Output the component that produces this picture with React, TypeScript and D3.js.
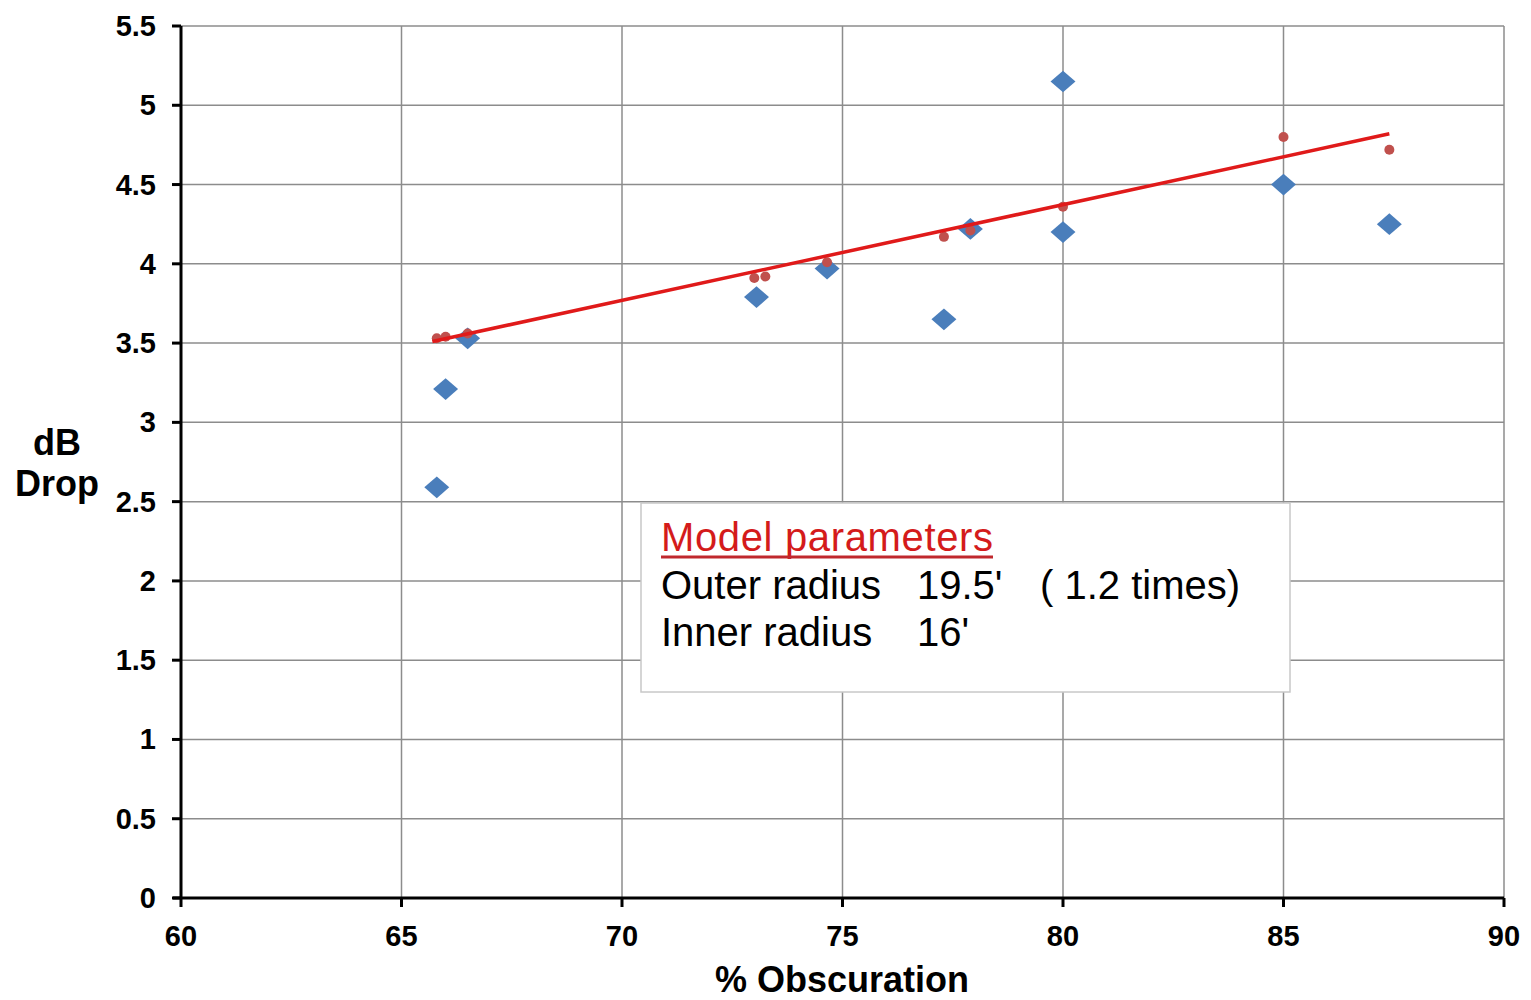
import React from "react";
import * as d3 from "d3";

const measuredX = [65.8, 66.0, 66.5, 73.05, 74.65, 77.3, 77.9, 80.0, 80.0, 85.0, 87.4];
const measuredY = [2.59, 3.21, 3.53, 3.79, 3.97, 3.65, 4.22, 5.15, 4.2, 4.5, 4.25];
const modelX = [65.8, 66.0, 66.5, 73.0, 73.25, 74.65, 77.3, 77.9, 80.0, 85.0, 87.4];
const modelY = [3.53, 3.54, 3.56, 3.91, 3.92, 4.01, 4.17, 4.21, 4.36, 4.8, 4.72];
const trendX = [65.7, 87.4];
const trendY = [3.51, 4.82];
const xTicks = [60, 65, 70, 75, 80, 85, 90];
const yTicks = [0, 0.5, 1, 1.5, 2, 2.5, 3, 3.5, 4, 4.5, 5, 5.5];
const boxTitle = "Model parameters";
const boxLabels = ["Outer radius", "Inner radius"];
const boxValues = ["19.5'", "16'"];
const boxNotes = ["( 1.2 times)", ""];

export default function App() {
  const W = 1531, H = 1000;
  const x = d3.scaleLinear().domain([60, 90]).range([181, 1504]);
  const y = d3.scaleLinear().domain([0, 5.5]).range([898, 26]);
  const line = d3.line<number>().x((_, i) => x(trendX[i])).y((_, i) => y(trendY[i]));
  const font = "Arial, 'Liberation Sans', sans-serif";
  const diamond = d3.symbol().type(d3.symbolDiamond2).size(300)();
  return (
    <svg width={W} height={H} style={{ position: "absolute", left: 0, top: 0, background: "#fff" }} fontFamily={font}>
      <rect x={0} y={0} width={W} height={H} fill="#fff" />
      {xTicks.filter(t => t > 60).map(t => (
        <line key={"gx" + t} x1={x(t)} x2={x(t)} y1={y(5.5)} y2={y(0)} stroke="#8c8c8c" strokeWidth={1.5} />
      ))}
      {yTicks.filter(t => t > 0).map(t => (
        <line key={"gy" + t} x1={x(60)} x2={x(90)} y1={y(t)} y2={y(t)} stroke="#8c8c8c" strokeWidth={1.5} />
      ))}
      <line x1={x(60)} x2={x(60)} y1={y(5.5)} y2={y(0)} stroke="#000" strokeWidth={3} />
      <line x1={x(60) - 8} x2={x(90)} y1={y(0)} y2={y(0)} stroke="#000" strokeWidth={3} />
      {yTicks.map(t => (
        <g key={"ty" + t}>
          <line x1={x(60) - 9} x2={x(60)} y1={y(t)} y2={y(t)} stroke="#000" strokeWidth={3} />
          <text x={156} y={y(t) + 10} textAnchor="end" fontSize={29} fontWeight="bold" fill="#000">{t}</text>
        </g>
      ))}
      {xTicks.map(t => (
        <g key={"tx" + t}>
          <line x1={x(t)} x2={x(t)} y1={y(0)} y2={y(0) + 9} stroke="#000" strokeWidth={3} />
          <text x={x(t)} y={946} textAnchor="middle" fontSize={29} fontWeight="bold" fill="#000">{t}</text>
        </g>
      ))}
      <text x={842} y={992} textAnchor="middle" fontSize={36} fontWeight="bold">% Obscuration</text>
      <text x={57} y={455} textAnchor="middle" fontSize={36} fontWeight="bold">dB</text>
      <text x={57} y={496} textAnchor="middle" fontSize={36} fontWeight="bold">Drop</text>

      {measuredX.map((v, i) => (
        <path key={"m" + i} d={diamond} transform={`translate(${x(v)},${y(measuredY[i])}) scale(1.15,1)`} fill="#4a7ebb" />
      ))}
      {modelX.map((v, i) => (
        <circle key={"r" + i} cx={x(v)} cy={y(modelY[i])} r={5} fill="#c0504d" />
      ))}
      <path d={line(trendX) || ""} stroke="#e01a1a" strokeWidth={3.5} fill="none" />

      <rect x={641} y={503} width={649} height={189} fill="#fff" stroke="#c8c8c8" strokeWidth={1.5} />
      <text x={661} y={551} fontSize={40} fill="#d41b1b" textLength={332} lengthAdjust="spacing">{boxTitle}</text>
      <line x1={661} x2={993} y1={557} y2={557} stroke="#c0282d" strokeWidth={3} />
      {boxLabels.map((s, i) => (
        <g key={"b" + i}>
          <text x={661} y={599 + i * 47} fontSize={40} fill="#000">{s}</text>
          <text x={917} y={599 + i * 47} fontSize={40} fill="#000">{boxValues[i]}</text>
          <text x={1040} y={599 + i * 47} fontSize={40} fill="#000" style={{ whiteSpace: "pre" }}>{boxNotes[i]}</text>
        </g>
      ))}
    </svg>
  );
}
